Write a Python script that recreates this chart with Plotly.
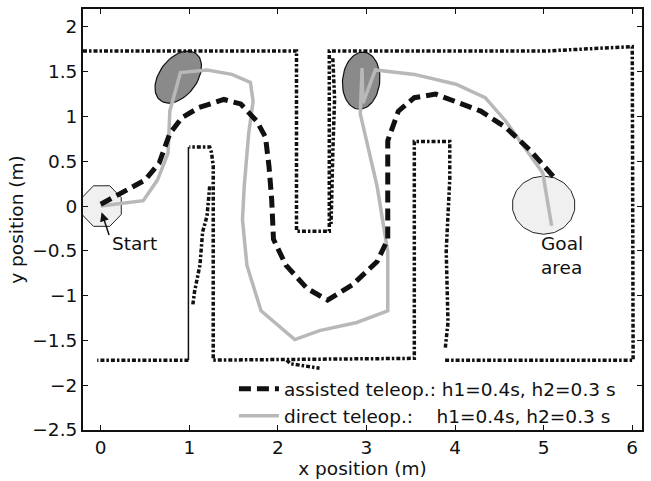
import numpy as np
import plotly.graph_objects as go

# ---------------- data ----------------
# assisted teleoperation path (m)
assist_x = [0.0, 0.27, 0.5, 0.66, 0.78, 0.92, 1.11, 1.39, 1.58, 1.76, 1.86, 1.90, 1.93, 1.95,
            2.09, 2.33, 2.56, 2.84, 3.12, 3.24, 3.24, 3.24, 3.36, 3.54, 3.78, 4.01, 4.29, 4.57, 4.85, 5.11]
assist_y = [0.02, 0.17, 0.29, 0.48, 0.81, 0.99, 1.10, 1.19, 1.14, 0.95, 0.77, 0.44, 0.07, -0.37,
            -0.66, -0.92, -1.05, -0.88, -0.62, -0.37, 0.07, 0.73, 1.06, 1.21, 1.25, 1.17, 1.06, 0.88, 0.62, 0.33]

# direct teleoperation path (m)
direct_x = [0.0, 0.48, 0.64, 0.76, 0.78, 0.90, 1.20, 1.48, 1.69, 1.72, 1.67, 1.62, 1.60, 1.65,
            1.81, 2.19, 2.47, 2.89, 3.24, 3.24, 3.12, 2.98, 2.93, 2.95, 2.96, 3.10, 3.54, 4.01,
            4.34, 4.57, 4.81, 4.99, 5.04, 5.09]
direct_y = [0.0, 0.06, 0.29, 0.59, 1.06, 1.49, 1.52, 1.47, 1.38, 1.17, 0.81, 0.22, -0.15, -0.66,
            -1.17, -1.49, -1.39, -1.30, -1.17, -0.51, 0.22, 0.81, 1.03, 1.54, 1.15, 1.52, 1.47, 1.36,
            1.21, 0.95, 0.62, 0.37, 0.07, -0.22]

# laser-scanned walls (None separates segments)
wall_x = [-0.2, 2.21, 2.21, 2.58, 2.58, 5.0, 6.0, 6.01, 3.87, None,
          3.89, 3.92, 3.90, 3.94, 3.94, 3.54, 3.54, 1.27, 1.27, 1.25, 1.23, 1.0, None,
          0.99, -0.04, None,
          1.23, 1.20, 1.15, 1.12, 1.06, 1.04, None,
          2.1, 2.14, 2.47, None,
          2.62, 2.64, 2.62, 2.60]
wall_y = [1.73, 1.73, -0.28, -0.28, 1.73, 1.73, 1.78, -1.72, -1.72, None,
          -1.58, -1.3, -0.5, 0.3, 0.72, 0.72, -1.70, -1.72, 0.45, 0.6, 0.66, 0.66, None,
          -1.72, -1.72, None,
          0.22, -0.11, -0.29, -0.66, -0.95, -1.10, None,
          -1.72, -1.76, -1.81, None,
          1.65, 1.2, 0.6, -0.2]
pillar_x = [0.99, 0.99]
pillar_y = [0.66, -1.72]

# obstacles: centre x, centre y, semi-axis a, semi-axis b, angle (deg)
obs_cx = [0.875, 2.94]
obs_cy = [1.44, 1.40]
obs_a = [0.33, 0.32]
obs_b = [0.21, 0.21]
obs_ang = [52, 84]

# start and goal areas: centre, radii, number of polygon sides
area_cx = [0.01, 5.0]
area_cy = [0.0, 0.01]
area_rx = [0.24, 0.355]
area_ry = [0.245, 0.325]
area_sides = [8, 18]

x_ticks = [0, 1, 2, 3, 4, 5, 6]
y_ticks = [-2.5, -2, -1.5, -1, -0.5, 0, 0.5, 1, 1.5, 2]
y_tick_text = ["\u22122.5", "\u22122", "\u22121.5", "\u22121", "\u22120.5", "0", "0.5", "1", "1.5", "2"]

FONT = "DejaVu Sans"
FS = 18.5

fig = go.Figure()

# start / goal areas
for cx, cy, rx, ry, n in zip(area_cx, area_cy, area_rx, area_ry, area_sides):
    t = np.linspace(0, 2 * np.pi, n + 1) + np.pi / n
    fig.add_trace(go.Scatter(x=cx + rx * np.cos(t), y=cy + ry * np.sin(t), mode="lines",
                             fill="toself", fillcolor="#f0f0f0",
                             line=dict(color="#222222", width=1), showlegend=False, hoverinfo="skip"))

# obstacles
for cx, cy, a, b, ang in zip(obs_cx, obs_cy, obs_a, obs_b, obs_ang):
    t = np.linspace(0, 2 * np.pi, 80)
    th = np.deg2rad(ang)
    ex = cx + a * np.cos(t) * np.cos(th) - b * np.sin(t) * np.sin(th)
    ey = cy + a * np.cos(t) * np.sin(th) + b * np.sin(t) * np.cos(th)
    fig.add_trace(go.Scatter(x=ex, y=ey, mode="lines", fill="toself", fillcolor="#8a8a8a",
                             line=dict(color="#111111", width=1.2), showlegend=False, hoverinfo="skip"))

# walls
fig.add_trace(go.Scatter(x=wall_x, y=wall_y, mode="lines", connectgaps=False,
                         line=dict(color="#111111", width=3.5, dash="4px,2px,2.5px,2px"),
                         showlegend=False, hoverinfo="skip"))
fig.add_trace(go.Scatter(x=pillar_x, y=pillar_y, mode="lines",
                         line=dict(color="#111111", width=1.5),
                         showlegend=False, hoverinfo="skip"))

# paths
fig.add_trace(go.Scatter(x=direct_x, y=direct_y, mode="lines",
                         line=dict(color="#b8b8b8", width=3.5),
                         name="direct teleop.:\u00a0\u00a0\u00a0\u00a0h1=0.4s, h2=0.3 s"))
fig.add_trace(go.Scatter(x=assist_x, y=assist_y, mode="lines",
                         line=dict(color="#111111", width=5, dash="12px,6px"),
                         name="assisted teleop.: h1=0.4s, h2=0.3 s"))

# annotations
fig.add_annotation(x=0.38, y=-0.42, text="Start", showarrow=False,
                   font=dict(family=FONT, size=FS, color="#111111"))
fig.add_annotation(x=0.01, y=-0.07, ax=0.1, ay=-0.34, axref="x", ayref="y", xref="x", yref="y",
                   text="", showarrow=True, arrowhead=2, arrowsize=1.2, arrowwidth=1.5,
                   arrowcolor="#111111")
fig.add_annotation(x=5.21, y=-0.555, text="Goal<br>area", showarrow=False, align="left",
                   font=dict(family=FONT, size=FS, color="#111111"))

axis_common = dict(showgrid=False, zeroline=False, showline=True, linecolor="#111111",
                   linewidth=2, mirror="ticks", ticks="inside", ticklen=5, tickwidth=1.2,
                   tickcolor="#111111", tickfont=dict(family=FONT, size=FS, color="#111111"))

fig.update_xaxes(range=[-0.2, 6.11], tickvals=x_ticks,
                 title=dict(text="x position (m)", font=dict(family=FONT, size=FS, color="#111111"),
                            standoff=0), **axis_common)
fig.update_yaxes(range=[-2.5, 2.2], tickvals=y_ticks, ticktext=y_tick_text,
                 title=dict(text="y position (m)", font=dict(family=FONT, size=FS, color="#111111"),
                            standoff=4), **axis_common)

fig.update_layout(
    width=651, height=481,
    margin=dict(l=83, r=8, t=7, b=51),
    paper_bgcolor="white", plot_bgcolor="white",
    legend=dict(x=0.27, y=0.142, xanchor="left", yanchor="top", traceorder="reversed",
                bgcolor="rgba(0,0,0,0)", font=dict(family=FONT, size=FS, color="#111111"),
                tracegroupgap=0, itemwidth=40),
    showlegend=True,
)

fig.write_html("out.html", config={"displayModeBar": False},
               post_script="document.body.style.margin='0px';")
